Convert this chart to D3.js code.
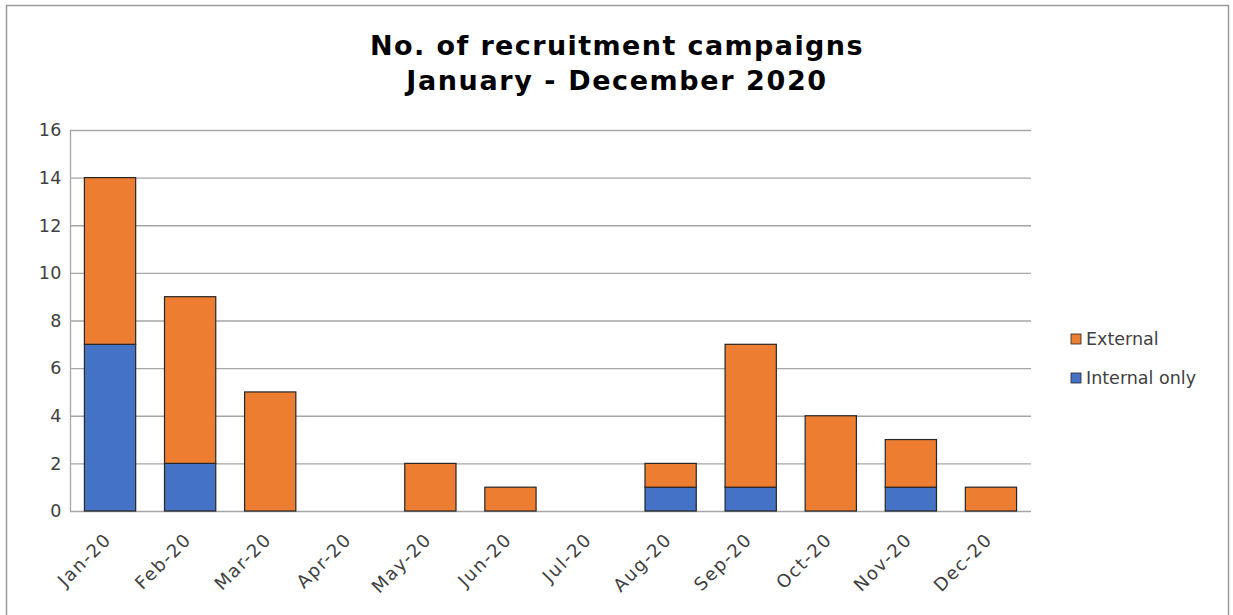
<!DOCTYPE html>
<html>
<head>
<meta charset="utf-8">
<script src="https://cdn.jsdelivr.net/npm/d3@7"></script>
<style>
  body { margin: 0; background: #fff; }
  text { font-family: Verdana, "DejaVu Sans", sans-serif; }
</style>
</head>
<body>
<div id="chart"></div>
<script>
const months = ["Jan-20", "Feb-20", "Mar-20", "Apr-20", "May-20", "Jun-20",
                "Jul-20", "Aug-20", "Sep-20", "Oct-20", "Nov-20", "Dec-20"];
const internalOnly = [7, 2, 0, 0, 0, 0, 0, 1, 1, 0, 1, 0];
const external = [7, 7, 5, 0, 2, 1, 0, 1, 6, 4, 2, 1];
const yTicks = [0, 2, 4, 6, 8, 10, 12, 14, 16];
const seriesNames = ["Internal only", "External"];
const seriesColors = ["#4472C4", "#ED7D31"];

const W = 1233, H = 615;
const plot = { left: 70, right: 1031, top: 130, bottom: 511 };

const svg = d3.select("#chart").append("svg")
    .attr("width", W).attr("height", H);

// chart border
svg.append("rect")
    .attr("x", 6.5).attr("y", 5.5)
    .attr("width", 1222).attr("height", 620)
    .attr("fill", "#fff")
    .attr("stroke", "#9a9a9a")
    .attr("stroke-width", 1.5);

const table = months.map((m, i) => ({ month: m, "Internal only": internalOnly[i], "External": external[i] }));
const stacked = d3.stack().keys(seriesNames)(table);

const x = d3.scaleBand().domain(months).range([plot.left, plot.right]).paddingInner(0.36).paddingOuter(0.18);
const y = d3.scaleLinear().domain([0, 16]).range([plot.bottom, plot.top]);

// gridlines
svg.append("g").selectAll("line")
    .data(yTicks)
    .enter().append("line")
    .attr("x1", plot.left).attr("x2", plot.right)
    .attr("y1", d => y(d) + 0.5).attr("y2", d => y(d) + 0.5)
    .attr("stroke", "#a6a6a6").attr("stroke-width", 1.3);

// left axis line
svg.append("line")
    .attr("x1", plot.left + 0.5).attr("x2", plot.left + 0.5)
    .attr("y1", plot.top).attr("y2", plot.bottom)
    .attr("stroke", "#a6a6a6").attr("stroke-width", 1.3);

// y labels
svg.append("g").selectAll("text")
    .data(yTicks)
    .enter().append("text")
    .attr("x", plot.left - 8)
    .attr("y", d => y(d))
    .attr("dy", "0.36em")
    .attr("text-anchor", "end")
    .style("font-size", "17.5px")
    .style("letter-spacing", "0.5px")
    .attr("fill", "#404040")
    .text(d => d);

// bars
svg.append("g").selectAll("g")
    .data(stacked)
    .enter().append("g")
    .attr("fill", (d, i) => seriesColors[i])
    .selectAll("rect")
    .data(d => d.filter(p => p[1] - p[0] > 0))
    .enter().append("rect")
    .attr("x", d => x(d.data.month))
    .attr("y", d => y(d[1]))
    .attr("width", x.bandwidth())
    .attr("height", d => y(d[0]) - y(d[1]))
    .attr("stroke", "#262626")
    .attr("stroke-width", 1.2);

// x labels
svg.append("g").selectAll("text")
    .data(months)
    .enter().append("text")
    .attr("transform", d => `translate(${x(d) + x.bandwidth() / 2 - 2},${plot.bottom + 25}) rotate(-45)`)
    .attr("text-anchor", "end")
    .attr("dy", "0.35em")
    .style("font-size", "18px")
    .style("letter-spacing", "1.6px")
    .attr("fill", "#404040")
    .text(d => d);

// title
const title = svg.append("text")
    .attr("x", 617).attr("text-anchor", "middle")
    .style("font-size", "27px").style("font-weight", "bold")
    .style("letter-spacing", "1.4px")
    .attr("fill", "#000");
title.append("tspan").attr("x", 617).attr("y", 55).text("No. of recruitment campaigns");
title.append("tspan").attr("x", 617).attr("y", 90).style("letter-spacing", "1.6px").text("January - December 2020");

// legend (External on top)
const legendItems = [
    { name: "External", color: seriesColors[1] },
    { name: "Internal only", color: seriesColors[0] }
];
const legend = svg.append("g").selectAll("g")
    .data(legendItems)
    .enter().append("g")
    .attr("transform", (d, i) => `translate(1071,${339 + i * 39})`);
legend.append("rect")
    .attr("x", 0).attr("y", -5).attr("width", 10).attr("height", 10)
    .attr("fill", d => d.color)
    .attr("stroke", "#262626").attr("stroke-width", 0.8);
legend.append("text")
    .attr("x", 15).attr("dy", "0.36em")
    .style("font-size", "17.5px")
    .attr("fill", "#404040")
    .text(d => d.name);
</script>
</body>
</html>
